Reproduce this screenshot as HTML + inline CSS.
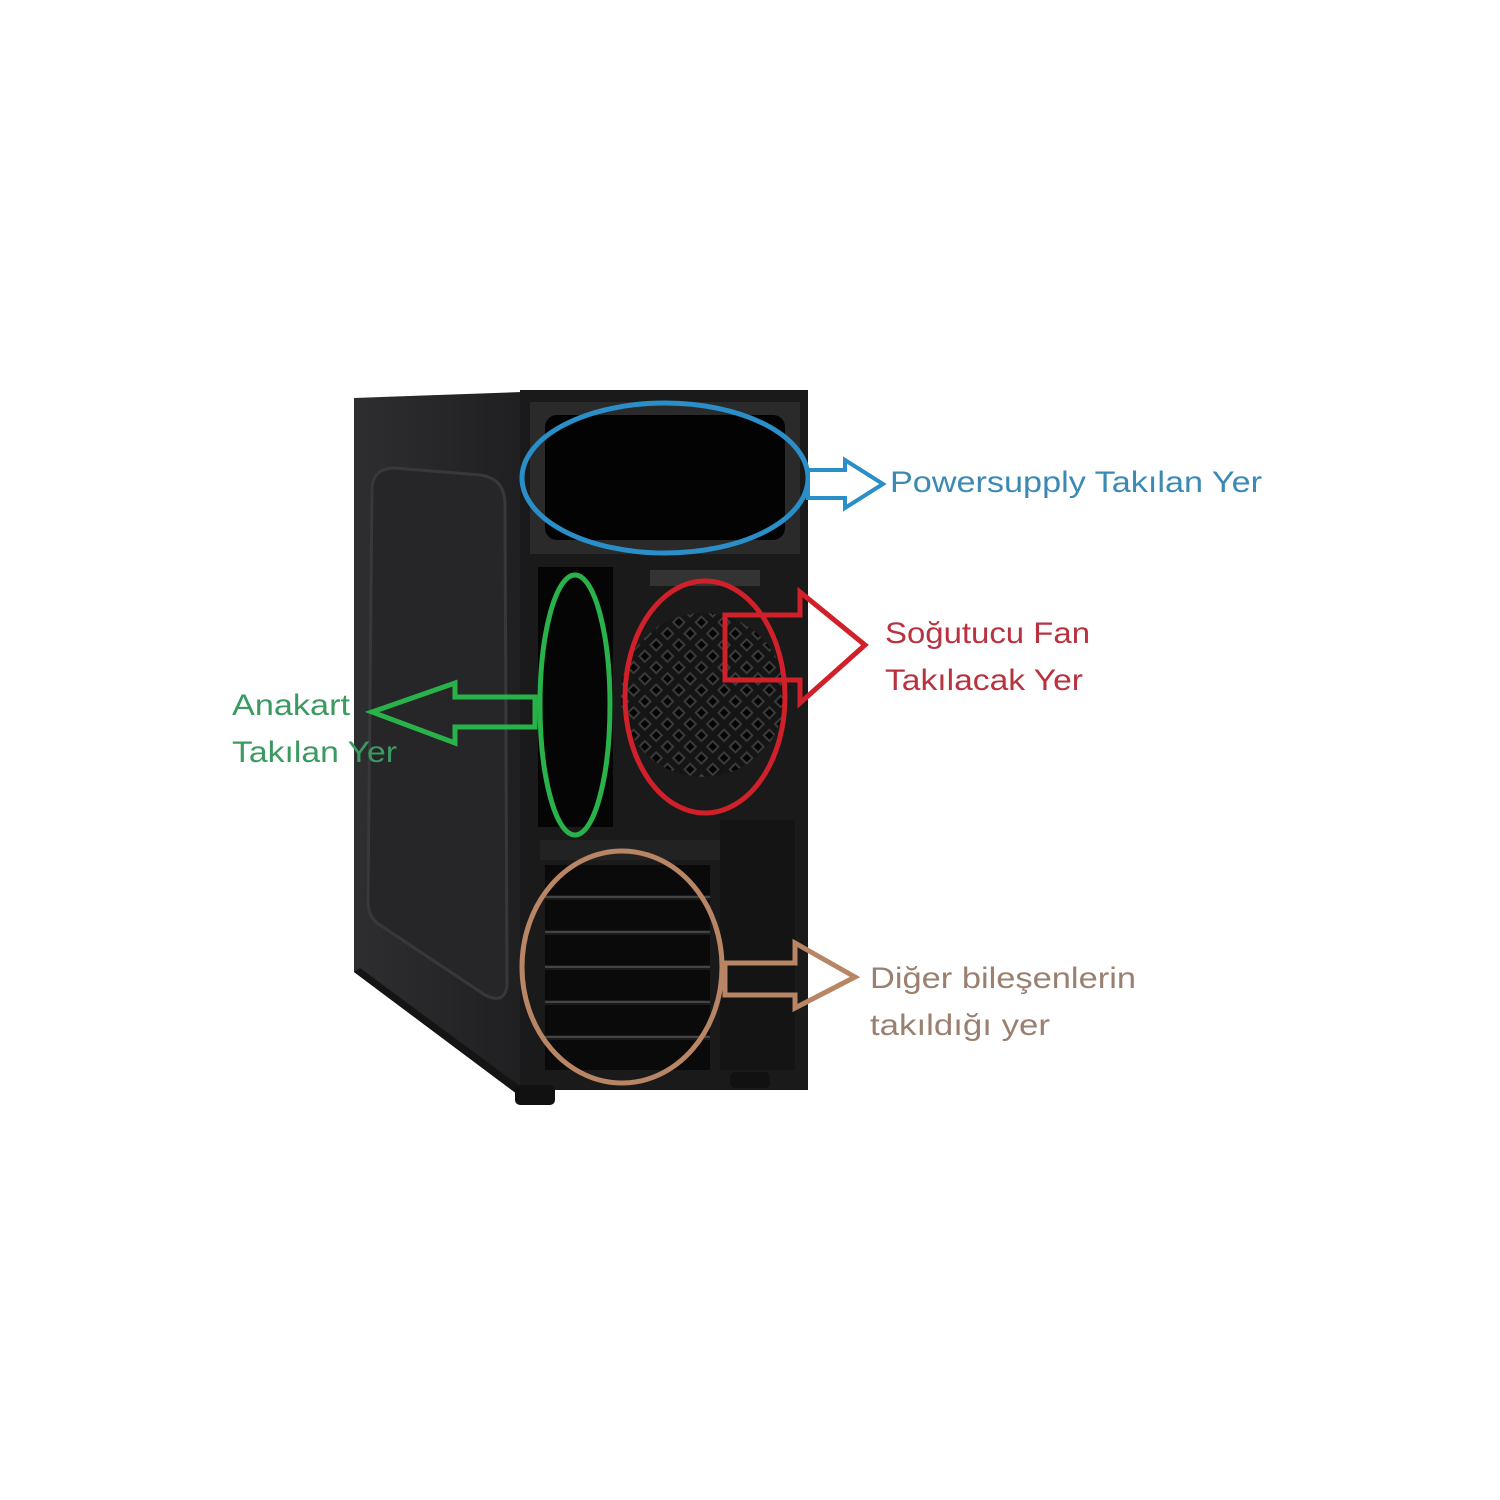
<!DOCTYPE html>
<html><head><meta charset="utf-8"><style>html,body{margin:0;padding:0;background:#fff}svg{display:block}</style></head><body>
<svg width="1500" height="1500" viewBox="0 0 1500 1500" xmlns="http://www.w3.org/2000/svg" font-family="'Liberation Sans', sans-serif">
<defs>
<pattern id="mesh" width="16" height="16" patternUnits="userSpaceOnUse" patternTransform="rotate(45)">
<rect width="16" height="16" fill="#151515"/><rect x="3" y="3" width="10" height="10" fill="#3a3a3a"/><rect x="5" y="5" width="6" height="6" fill="#050505"/>
</pattern>
<linearGradient id="side" x1="0" x2="1"><stop offset="0" stop-color="#2e2e30"/><stop offset="1" stop-color="#1f1f21"/></linearGradient>
</defs>
<rect width="1500" height="1500" fill="#fff"/>
<!-- side panel -->
<polygon points="354,398 522,392 525,1100 354,972" fill="url(#side)"/>
<path d="M372,490 Q372,468 395,468 L480,475 Q505,478 505,505 L507,985 Q505,1005 485,995 L380,925 Q368,918 368,900 Z" fill="#262628" stroke="#38383a" stroke-width="3"/>
<polygon points="354,972 525,1100 525,1090 360,968" fill="#141414"/>
<!-- back panel -->
<rect x="520" y="390" width="288" height="700" fill="#1a1a1b"/>
<rect x="530" y="402" width="270" height="152" fill="#2a2a2b"/>
<rect x="545" y="415" width="240" height="125" rx="12" fill="#030303"/>
<rect x="538" y="567" width="75" height="260" fill="#050505"/>
<rect x="650" y="570" width="110" height="16" fill="#333"/>
<circle cx="703" cy="695" r="82" fill="url(#mesh)"/>
<rect x="540" y="840" width="180" height="20" fill="#222"/>
<g fill="#0a0a0a">
<rect x="545" y="865" width="165" height="30"/><rect x="545" y="900" width="165" height="30"/><rect x="545" y="935" width="165" height="30"/><rect x="545" y="970" width="165" height="30"/><rect x="545" y="1005" width="165" height="30"/><rect x="545" y="1040" width="165" height="30"/>
</g>
<g stroke="#444" stroke-width="2">
<line x1="545" y1="897" x2="710" y2="897"/><line x1="545" y1="932" x2="710" y2="932"/><line x1="545" y1="967" x2="710" y2="967"/><line x1="545" y1="1002" x2="710" y2="1002"/><line x1="545" y1="1037" x2="710" y2="1037"/>
</g>
<rect x="720" y="820" width="75" height="250" fill="#141414"/>
<rect x="515" y="1085" width="40" height="20" rx="5" fill="#111"/>
<rect x="730" y="1072" width="40" height="16" rx="5" fill="#111"/>
<!-- ellipses -->
<g fill="none" stroke-width="5">
<ellipse cx="665" cy="478" rx="143" ry="75" stroke="#2a8fc8"/>
<ellipse cx="575" cy="705" rx="35" ry="130" stroke="#2ab24a"/>
<ellipse cx="705" cy="697" rx="80" ry="116" stroke="#d0202a"/>
<ellipse cx="622" cy="967" rx="100" ry="116" stroke="#b88565"/>
</g>
<!-- arrows -->
<polygon points="808,470 845,470 845,460 883,484 845,508 845,498 808,498" fill="#fff" stroke="#2a8fc8" stroke-width="4"/>
<polygon points="725,615 800,615 800,592 865,645 800,703 800,680 725,680" fill="none" stroke="#d0202a" stroke-width="5"/>
<polygon points="535,697 455,697 455,683 372,712 455,743 455,727 535,727" fill="none" stroke="#2ab24a" stroke-width="5"/>
<polygon points="725,963 795,963 795,943 855,977 795,1008 795,995 725,995" fill="none" stroke="#b88565" stroke-width="5"/>
<!-- labels -->
<g font-size="30">
<text x="890" y="492" fill="#3a8ab4" textLength="372" lengthAdjust="spacingAndGlyphs">Powersupply Takılan Yer</text>
<text x="885" y="643" fill="#b8323f" textLength="205" lengthAdjust="spacingAndGlyphs">Soğutucu Fan</text>
<text x="885" y="690" fill="#b8323f" textLength="198" lengthAdjust="spacingAndGlyphs">Takılacak Yer</text>
<text x="232" y="715" fill="#3a9a60" textLength="118" lengthAdjust="spacingAndGlyphs">Anakart</text>
<text x="232" y="762" fill="#3a9a60" textLength="165" lengthAdjust="spacingAndGlyphs">Takılan Yer</text>
<text x="870" y="988" fill="#9a8070" textLength="266" lengthAdjust="spacingAndGlyphs">Diğer bileşenlerin</text>
<text x="870" y="1035" fill="#9a8070" textLength="180" lengthAdjust="spacingAndGlyphs">takıldığı yer</text>
</g>
</svg>
</body></html>
